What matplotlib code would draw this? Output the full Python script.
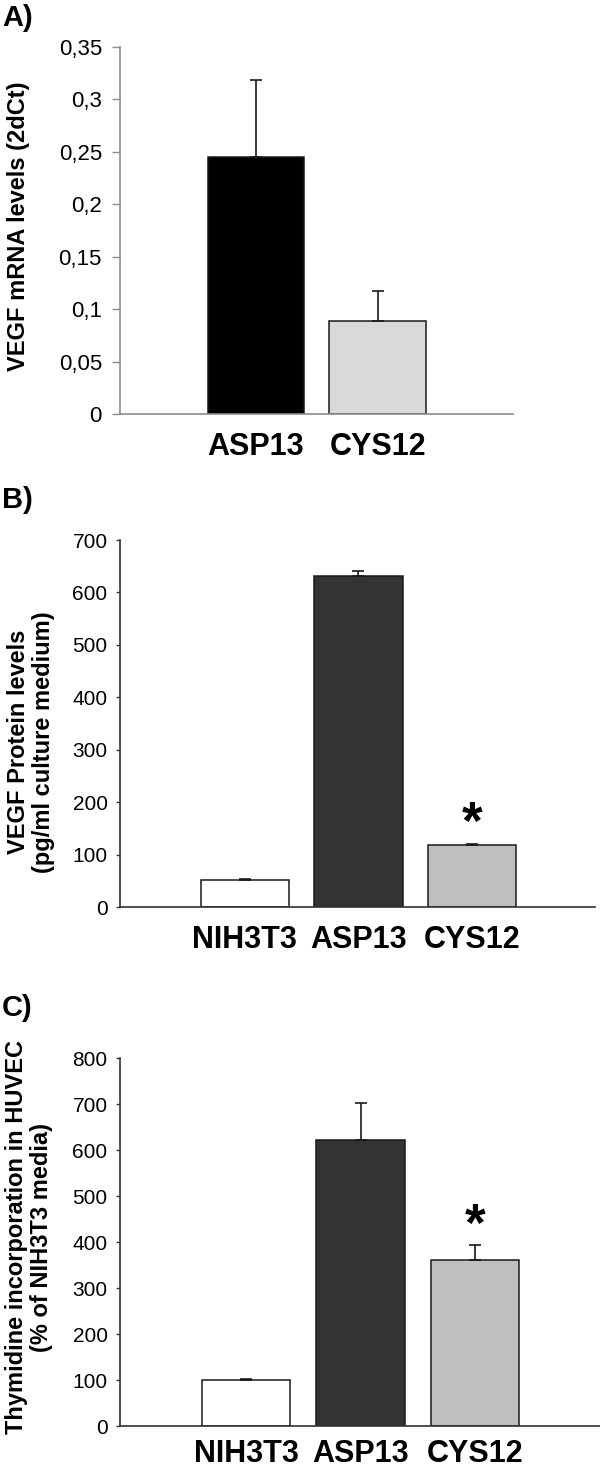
import matplotlib.pyplot as plt
import numpy as np

plt.rcParams['font.family'] = ['Liberation Sans', 'DejaVu Sans']

# panel A: VEGF mRNA
a_labels = ['ASP13', 'CYS12']
a_values = [0.245, 0.089]
a_err = [0.073, 0.028]
a_colors = ['#000000', '#d9d9d9']
a_ticks = [0, 0.05, 0.1, 0.15, 0.2, 0.25, 0.3, 0.35]
a_ticklabels = ['0', '0,05', '0,1', '0,15', '0,2', '0,25', '0,3', '0,35']

# panel B: VEGF protein
b_labels = ['NIH3T3', 'ASP13', 'CYS12']
b_values = [51, 632, 119]
b_err = [2, 9, 2]
b_colors = ['#ffffff', '#333333', '#bfbfbf']
b_ticks = [0, 100, 200, 300, 400, 500, 600, 700]

# panel C: thymidine incorporation
c_labels = ['NIH3T3', 'ASP13', 'CYS12']
c_values = [101, 621, 360]
c_err = [2, 81, 34]
c_colors = ['#ffffff', '#333333', '#bfbfbf']
c_ticks = [0, 100, 200, 300, 400, 500, 600, 700, 800]

W, H = 600, 1469
fig = plt.figure(figsize=(W / 100, H / 100), dpi=100)


def box(left, right, top, bottom):
    return [left / W, 1 - bottom / H, (right - left) / W, (bottom - top) / H]


def panel(rect, labels, values, err, colors, ticks, xlim, width, spine_col,
          tick_fs, tick_len, tick_pad, xpad, star=None):
    ax = fig.add_axes(rect)
    x = np.arange(len(labels))
    ax.bar(x, values, width=width, color=colors, edgecolor='#1a1a1a', linewidth=1.1, zorder=2)
    ax.errorbar(x, values, yerr=[np.zeros(len(err)), err], fmt='none', ecolor='#1a1a1a',
                elinewidth=1.2, capsize=4, capthick=1.2, zorder=3)
    ax.set_xlim(*xlim)
    ax.set_ylim(ticks[0], ticks[-1])
    ax.set_yticks(ticks)
    ax.set_xticks(x)
    ax.set_xticklabels(labels, fontsize=22, fontweight='bold')
    ax.tick_params(axis='x', length=0, pad=xpad)
    ax.tick_params(axis='y', direction='out', length=tick_len, width=1, color=spine_col,
                   labelsize=tick_fs, pad=tick_pad)
    for s in ['top', 'right']:
        ax.spines[s].set_visible(False)
    for s in ['left', 'bottom']:
        ax.spines[s].set_color(spine_col)
        ax.spines[s].set_linewidth(1.2)
    if star is not None:
        ax.annotate('*', xy=(star, values[star] + err[star]), xytext=(0, 3),
                    textcoords='offset points', ha='center', va='baseline',
                    fontsize=38, fontweight='bold')
    return ax


axA = panel(box(120, 513, 46.7, 414), a_labels, a_values, a_err, a_colors, a_ticks,
            (-1.115, 2.107), 0.795, '#8c8c8c', 16, 6, 7, 13)
axA.set_yticklabels(a_ticklabels)

axB = panel(box(120, 595, 540, 907), b_labels, b_values, b_err, b_colors, b_ticks,
            (-1.10, 3.084), 0.78, '#333333', 15, 3, 6, 13, star=2)

axC = panel(box(120, 600, 1058, 1426), c_labels, c_values, c_err, c_colors, c_ticks,
            (-1.10, 3.09), 0.77, '#333333', 15, 3, 6, 9.5, star=2)

fig.text(2 / W, 1 - 18 / H, 'A)', fontsize=21, fontweight='bold', va='center')
fig.text(2 / W, 1 - 500 / H, 'B)', fontsize=21, fontweight='bold', va='center')
fig.text(2 / W, 1 - 1008 / H, 'C)', fontsize=21, fontweight='bold', va='center')

fig.text(19 / W, 1 - 226 / H, 'VEGF mRNA levels (2dCt)', rotation=90, fontsize=17,
         fontweight='bold', ha='center', va='center')
fig.text(31 / W, 1 - 742 / H, 'VEGF Protein levels\n(pg/ml culture medium)', rotation=90,
         fontsize=17, fontweight='bold', ha='center', va='center', multialignment='center',
         linespacing=1.1)
fig.text(29 / W, 1 - 1237 / H, 'Thymidine incorporation in HUVEC\n(% of NIH3T3 media)',
         rotation=90, fontsize=17, fontweight='bold', ha='center', va='center',
         multialignment='center', linespacing=1.1)

fig.savefig('out.png', dpi=100)
